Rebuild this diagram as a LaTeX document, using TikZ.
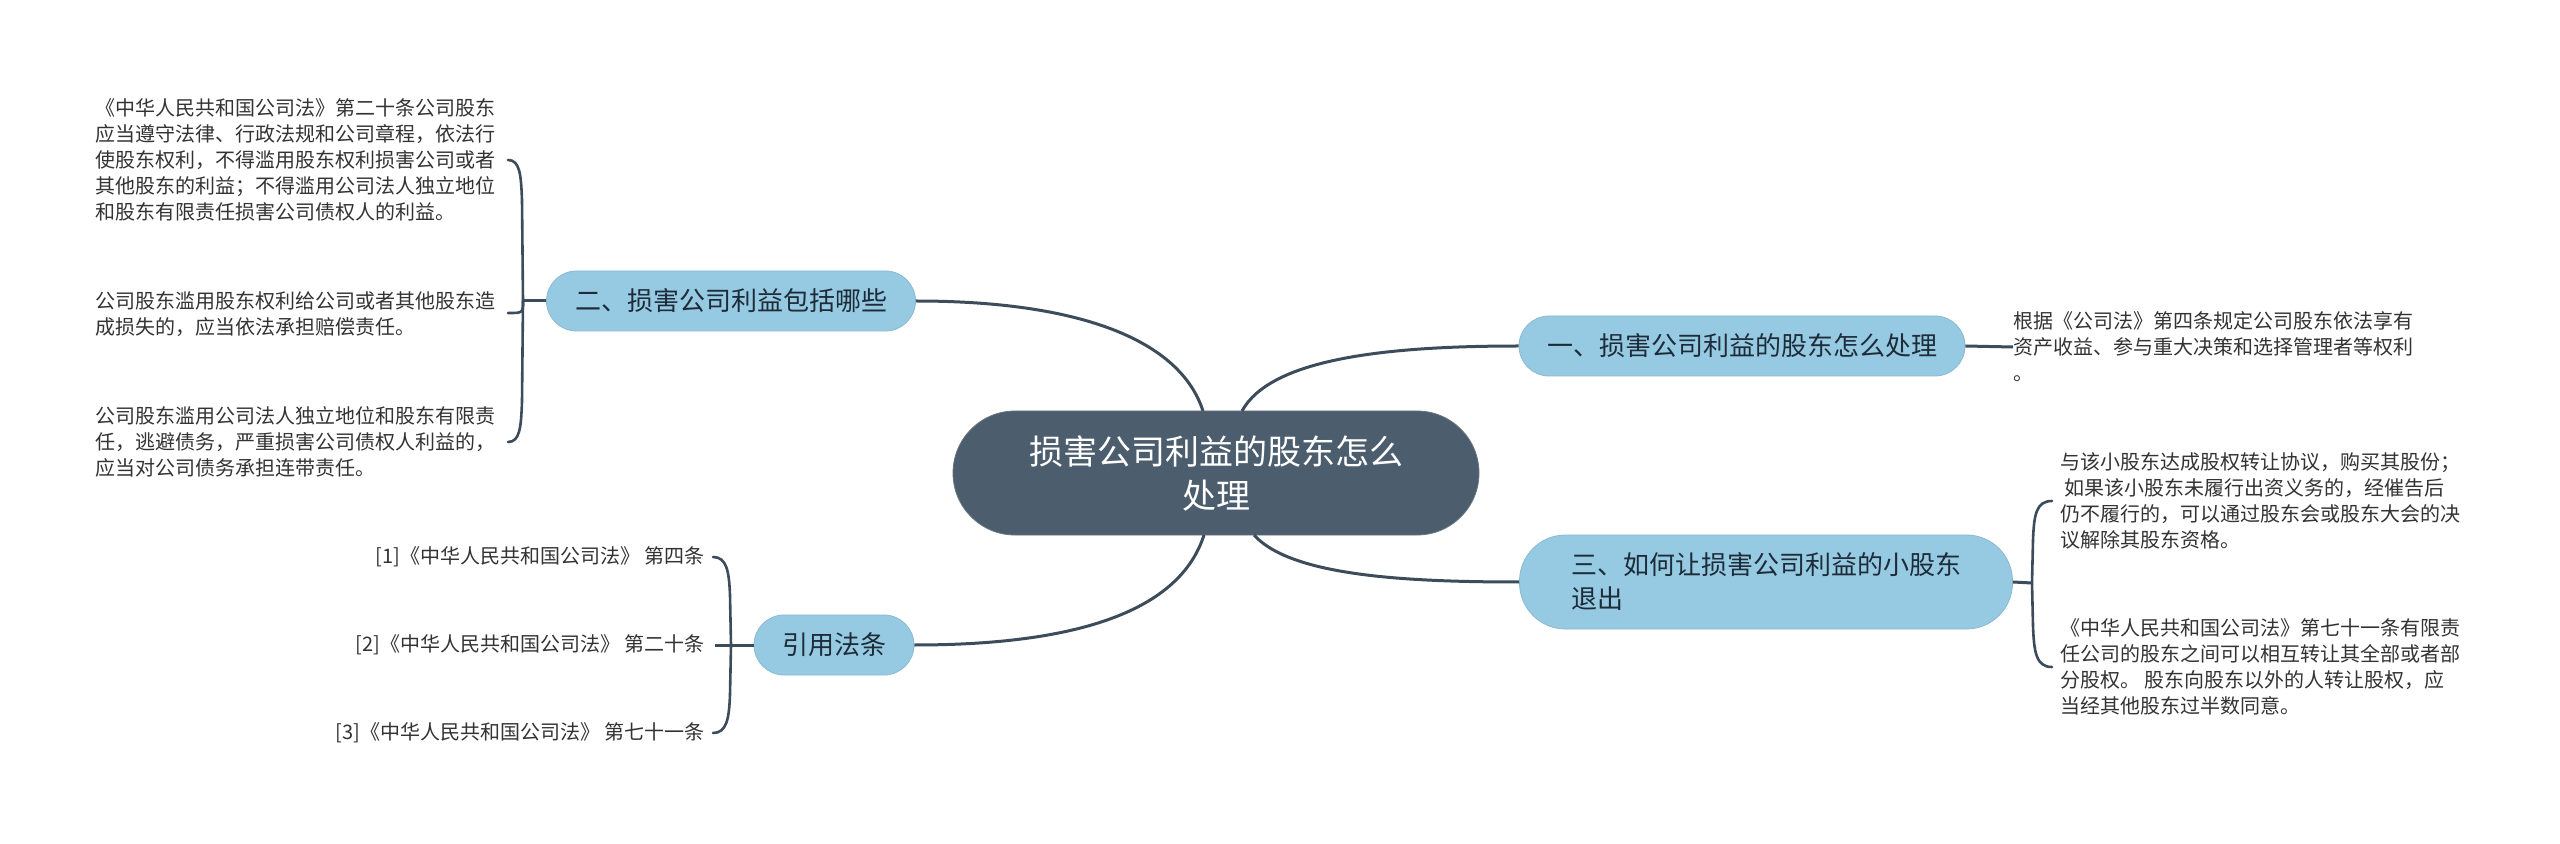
\documentclass[tikz,border=0pt]{standalone}
\usepackage{fontspec}
\setmainfont{Noto Sans CJK SC}
\definecolor{mmslate}{HTML}{4C5D6D}
\definecolor{mmblue}{HTML}{96CAE2}
\definecolor{mmline}{HTML}{3D4C5B}
\definecolor{mmtext}{HTML}{333333}
\definecolor{mmdark}{HTML}{1E2B38}
\usetikzlibrary{positioning}

\begin{document}
\begin{tikzpicture}[x=0.5pt, y=-0.5pt,
  rootbox/.style={fill=mmslate, draw=mmslate!85!white, rounded corners=31pt,
    minimum width=263pt, minimum height=62pt, text=white, align=center,
    font=\fontsize{17}{22}\selectfont},
  topicbox/.style={fill=mmblue, draw=mmblue!92!black, line width=0.4pt,
    rounded corners=15pt, minimum height=30pt, text=mmdark,
    font=\fontsize{13}{17}\selectfont},
  leaftext/.style={inner sep=0pt, align=left, text=mmtext,
    font=\fontsize{10}{13}\selectfont},
  branch/.style={draw=mmline, line width=1.5pt},
  brace/.style={draw=mmline, line width=1.3pt, line cap=round}]

\useasboundingbox (0,0) rectangle (2560,844);
\fill[white] (0,0) rectangle (2560,844);

% Central topic
\node[rootbox] (root) at (1216,473) {损害公司利益的股东怎么\\处理};

% Main branches
\node[topicbox, minimum width=223pt] (b1) at (1742,346) {一、损害公司利益的股东怎么处理};
\node[topicbox, minimum width=184.5pt] (b2) at (731,301) {二、损害公司利益包括哪些};
\node[topicbox, minimum width=246.5pt, minimum height=47pt, rounded corners=23pt,
      text width=195pt, align=left] (b3) at (1766,582) {三、如何让损害公司利益的小股东\\退出};
\node[topicbox, minimum width=80pt] (b4) at (834,645) {引用法条};

% Curves from the centre
\draw[branch] (1203,411) .. controls (1180,340) and (1080,301) .. (b2.east);
\draw[branch] (1242,411) .. controls (1270,360) and (1380,346) .. (b1.west);
\draw[branch] (1204,535) .. controls (1180,610) and (1080,645) .. (b4.east);
\draw[branch] (1254,535) .. controls (1290,575) and (1400,582) .. (b3.west);

% Leaves of branch 1
\node[leaftext, anchor=west] (l11) at (2013,347)
  {根据《公司法》第四条规定公司股东依法享有\\资产收益、参与重大决策和选择管理者等权利\\。};
\draw[branch] (b1.east) -- (l11.west);

% Leaves of branch 2
\node[leaftext, anchor=west] (l21) at (95,160)
  {《中华人民共和国公司法》第二十条公司股东\\应当遵守法律、行政法规和公司章程，依法行\\使股东权利，不得滥用股东权利损害公司或者\\其他股东的利益；不得滥用公司法人独立地位\\和股东有限责任损害公司债权人的利益。};
\node[leaftext, anchor=west] (l22) at (95,314)
  {公司股东滥用股东权利给公司或者其他股东造\\成损失的，应当依法承担赔偿责任。};
\node[leaftext, anchor=west] (l23) at (95,442)
  {公司股东滥用公司法人独立地位和股东有限责\\任，逃避债务，严重损害公司债权人利益的，\\应当对公司债务承担连带责任。};
\coordinate (s2) at (523,301);
\draw[branch] (b2.west) -- (s2);
\draw[brace] (508,160) .. controls (520,160) and (521,175) .. (522,200)
  -- (523,301) -- (522,402) .. controls (521,427) and (520,442) .. (508,442);
\draw[brace] (s2) .. controls (523,313) .. (508,313);

% Leaves of branch 3
\node[leaftext, anchor=west] (l31) at (2060,501)
  {与该小股东达成股权转让协议，购买其股份；\\\ 如果该小股东未履行出资义务的，经催告后\\仍不履行的，可以通过股东会或股东大会的决\\议解除其股东资格。};
\node[leaftext, anchor=west] (l32) at (2060,667)
  {《中华人民共和国公司法》第七十一条有限责\\任公司的股东之间可以相互转让其全部或者部\\分股权。 股东向股东以外的人转让股权，应\\当经其他股东过半数同意。};
\coordinate (s3) at (2032,583);
\draw[branch] (b3.east) -- (s3);
\draw[brace] (2052,501) .. controls (2036,501) and (2034,515) .. (2033,540)
  -- (2032,583) -- (2033,626) .. controls (2034,652) and (2036,667) .. (2052,667);

% Leaves of branch 4
\node[leaftext, anchor=east] (l41) at (705,557) {[1]《中华人民共和国公司法》 第四条};
\node[leaftext, anchor=east] (l42) at (705,645) {[2]《中华人民共和国公司法》 第二十条};
\node[leaftext, anchor=east] (l43) at (705,733) {[3]《中华人民共和国公司法》 第七十一条};
\draw[branch] (b4.west) -- ([xshift=5pt]l42.east);
\draw[brace] (713,557) .. controls (727,557) and (729,572) .. (730,595)
  -- (731,645) -- (730,695) .. controls (729,718) and (727,733) .. (713,733);

\end{tikzpicture}
\end{document}
